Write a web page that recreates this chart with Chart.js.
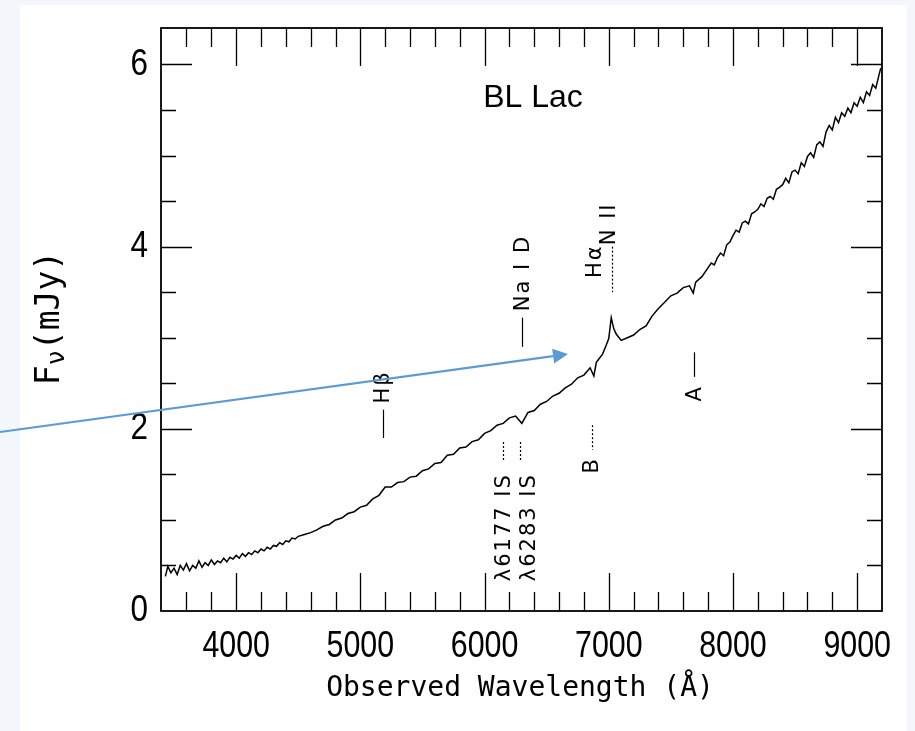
<!DOCTYPE html>
<html><head><meta charset="utf-8">
<script src="https://cdn.jsdelivr.net/npm/chart.js@4/dist/chart.umd.min.js"></script>
<style>
html,body{margin:0;padding:0;background:#f3f7fb;overflow:hidden;}
#bg{position:absolute;left:20px;top:5px;width:887px;height:726px;background:#fff;}
#c{position:absolute;left:0;top:0;}
</style></head><body>
<div id="bg"></div>
<canvas id="c" width="915" height="731"></canvas>
<script>
// ---- data ----
const wavelength = [
  3430,3450,3475,3500,3525,3550,3575,3600,3625,3650,3675,3700,3725,3750,3775,3800,3825,3850,3875,3900,3925,3950,3975,
  4000,4025,4050,4075,4100,4125,4150,4175,4200,4225,4250,4275,4300,4325,4350,4375,4400,4425,4450,4475,4500,
  4550,4600,4650,4700,4750,4800,4850,4900,4950,
  5000,5050,5100,5150,5200,5250,5300,5350,5400,5450,5500,5550,5600,5650,5700,5750,5800,5850,5900,5950,
  6000,6050,6100,6150,6200,6250,6300,6350,6400,6450,6500,6550,6600,6650,6700,6750,6800,6850,6880,6900,6950,6980,
  7000,7020,7040,7060,7100,7150,7200,7250,7300,7350,7400,7450,7500,7550,7600,7650,7680,7700,7750,
  7800,7825,7850,7875,7900,7925,7950,7975,
  8000,8025,8050,8075,8100,8125,8150,8175,8200,8225,8250,8275,8300,8325,8350,8375,8400,8425,8450,8475,
  8500,8525,8550,8575,8600,8625,8650,8675,8700,8725,8750,8775,8800,8825,8850,8875,8900,8925,8950,8975,
  9000,9025,9050,9075,9100,9125,9150,9175,9190];
const flux = [
  0.38,0.49,0.42,0.47,0.40,0.50,0.45,0.52,0.44,0.50,0.47,0.55,0.48,0.53,0.50,0.56,0.51,0.55,0.53,0.58,0.54,0.59,0.57,
  0.61,0.58,0.63,0.60,0.64,0.62,0.66,0.64,0.68,0.66,0.70,0.68,0.72,0.71,0.75,0.73,0.77,0.76,0.80,0.79,0.82,
  0.84,0.86,0.89,0.93,0.95,1.00,1.02,1.07,1.09,
  1.14,1.16,1.23,1.27,1.36,1.36,1.41,1.42,1.47,1.48,1.54,1.56,1.62,1.63,1.71,1.72,1.79,1.80,1.86,1.88,
  1.95,1.98,2.04,2.06,2.12,2.14,2.06,2.18,2.20,2.27,2.30,2.36,2.39,2.45,2.49,2.56,2.59,2.67,2.58,2.73,2.82,2.92,
  2.99,3.22,3.10,3.04,2.97,3.00,3.03,3.09,3.13,3.24,3.32,3.39,3.46,3.49,3.55,3.57,3.49,3.61,3.67,
  3.77,3.82,3.80,3.88,3.93,3.90,4.02,4.05,
  4.12,4.18,4.16,4.26,4.28,4.25,4.36,4.38,4.41,4.47,4.44,4.53,4.55,4.52,4.63,4.65,4.68,4.75,4.70,4.82,
  4.84,4.80,4.92,4.88,4.99,5.03,4.98,5.12,5.15,5.10,5.26,5.33,5.28,5.42,5.36,5.47,5.43,5.52,5.47,5.58,
  5.54,5.64,5.58,5.70,5.66,5.78,5.74,5.88,5.96];
const xTickLabels = [4000,5000,6000,7000,8000,9000];
const yTickLabels = [0,2,4,6];
const lineLabels = ["Hβ","Na I D","Hα","N II","B","A","λ6177 IS","λ6283 IS"];
const labelWave  = [5190,6310,6897,7010,6873,7695,6165,6366];
const labelFlux  = [2.46,3.71,3.84,4.25,1.60,2.39,0.92,0.92];
const markWave   = [5182,6302,null,7026,6865,7687,6149,6286];
const markTop    = [2.21,3.22,null,4.00,2.04,2.84,1.855,1.855];
const markBottom = [1.90,2.90,null,3.50,1.77,2.57,1.636,1.636];
const markDashed = [false,false,false,true,true,false,true,true];
const arrowFrom = {x:2099, y:1.965};
const arrowTo   = {x:6672, y:2.82};

const points = wavelength.slice(0, Math.min(wavelength.length, flux.length)).map((w,i)=>({x:w,y:flux[i]}));

const overlay = {
  id:'overlay',
  afterDraw(chart){
    const {ctx, chartArea:a, scales:{x,y}} = chart;
    ctx.save();
    ctx.strokeStyle='#000'; ctx.fillStyle='#000';
    // frame
    ctx.lineWidth=1.8;
    ctx.strokeRect(a.left,a.top,a.right-a.left,a.bottom-a.top);
    // inward ticks x (bottom & top)
    ctx.lineWidth=1.3;
    ctx.beginPath();
    for(let v=3600; v<9200; v+=200){
      const px=Math.round(x.getPixelForValue(v))+0.5;
      const L=(v%1000===0)?38:19;
      ctx.moveTo(px,a.bottom); ctx.lineTo(px,a.bottom-L);
      ctx.moveTo(px,a.top); ctx.lineTo(px,a.top+L);
    }
    // inward ticks y (left & right)
    for(let v=0.5; v<6.4; v+=0.5){
      const py=Math.round(y.getPixelForValue(v))+0.5;
      const L=(Math.abs(v%2)<1e-6)?31:15;
      ctx.moveTo(a.left,py); ctx.lineTo(a.left+L,py);
      ctx.moveTo(a.right,py); ctx.lineTo(a.right-L,py);
    }
    ctx.stroke();
    // tick labels (condensed, placed with the chart's scales)
    ctx.font="37px 'Liberation Sans', Arial, sans-serif";
    ctx.textBaseline='middle';
    ctx.textAlign='center';
    x.ticks.forEach(t=>{
      ctx.save(); ctx.translate(x.getPixelForValue(t.value), a.bottom+36); ctx.scale(0.82,1);
      ctx.fillText(String(t.value),0,0); ctx.restore();
    });
    ctx.textAlign='right';
    y.ticks.forEach(t=>{
      ctx.save(); ctx.translate(a.left-13, y.getPixelForValue(t.value)); ctx.scale(0.85,1);
      ctx.fillText(String(t.value),0,0); ctx.restore();
    });
    // line identification marks
    ctx.lineWidth=1.2;
    for(let i=0;i<lineLabels.length;i++){
      if(markWave[i]!==null){
        const px=Math.round(x.getPixelForValue(markWave[i]))+0.5;
        ctx.setLineDash(markDashed[i]?[2,2]:[]);
        ctx.beginPath();
        ctx.moveTo(px,y.getPixelForValue(markTop[i]));
        ctx.lineTo(px,y.getPixelForValue(markBottom[i]));
        ctx.stroke();
      }
    }
    ctx.setLineDash([]);
    ctx.font="21px 'DejaVu Sans', sans-serif";
    try{ctx.letterSpacing='2px';}catch(e){}
    ctx.textAlign='center'; ctx.textBaseline='middle';
    for(let i=0;i<lineLabels.length;i++){
      ctx.save();
      ctx.translate(x.getPixelForValue(labelWave[i]), y.getPixelForValue(labelFlux[i]));
      ctx.rotate(-Math.PI/2);
      ctx.fillText(lineLabels[i],0,0);
      ctx.restore();
    }
    try{ctx.letterSpacing='0px';}catch(e){}
    // title
    ctx.font="32px 'Liberation Sans', Arial, sans-serif";
    ctx.fillText("BL Lac", 533, 98);
    // x axis title
    ctx.font="28px 'DejaVu Sans Mono', monospace";
    ctx.textBaseline='alphabetic';
    ctx.fillText("Observed Wavelength (Å)", 520, 696);
    // y axis title
    ctx.save();
    ctx.translate(59, 318);
    ctx.rotate(-Math.PI/2);
    ctx.textAlign='left';
    const f1="33px 'DejaVu Sans Mono', monospace", f2="25px 'DejaVu Sans Mono', monospace";
    ctx.font=f1; const wF=ctx.measureText("F").width, wP=ctx.measureText("(mJy)").width;
    ctx.font=f2; const wN=ctx.measureText("ν").width;
    let sx=-(wF+wN+wP)/2;
    ctx.font=f1; ctx.fillText("F",sx,0); sx+=wF;
    ctx.font=f2; ctx.fillText("ν",sx,5); sx+=wN;
    ctx.font=f1; ctx.fillText("(mJy)",sx,0);
    ctx.restore();
    // blue arrow
    const x0=x.getPixelForValue(arrowFrom.x), y0=y.getPixelForValue(arrowFrom.y);
    const x1=x.getPixelForValue(arrowTo.x), y1=y.getPixelForValue(arrowTo.y);
    const ang=Math.atan2(y1-y0,x1-x0), hl=15, hw=7.5;
    const bx=x1-hl*Math.cos(ang), by=y1-hl*Math.sin(ang);
    ctx.strokeStyle='#5b9bd5'; ctx.fillStyle='#5b9bd5'; ctx.lineWidth=2.2;
    ctx.beginPath(); ctx.moveTo(x0,y0); ctx.lineTo(bx,by); ctx.stroke();
    ctx.beginPath();
    ctx.moveTo(x1,y1);
    ctx.lineTo(bx+hw*Math.sin(ang), by-hw*Math.cos(ang));
    ctx.lineTo(bx-hw*Math.sin(ang), by+hw*Math.cos(ang));
    ctx.closePath(); ctx.fill();
    ctx.restore();
  }
};

new Chart(document.getElementById('c'), {
  type:'line',
  data:{datasets:[{data:points, borderColor:'#000', borderWidth:1.5, pointRadius:0, tension:0, fill:false}]},
  options:{
    responsive:false, animation:false, devicePixelRatio:1,
    layout:{padding:{left:0,right:33,top:28,bottom:0}},
    plugins:{legend:{display:false}, tooltip:{enabled:false}},
    scales:{
      x:{type:'linear', min:3395, max:9200,
        afterBuildTicks:s=>{s.ticks=xTickLabels.map(v=>({value:v}));},
        ticks:{display:false},
        grid:{display:false, drawTicks:false}, border:{display:false},
        afterFit:s=>{s.height=120; s.paddingLeft=0; s.paddingRight=0;}},
      y:{type:'linear', min:0, max:6.4,
        afterBuildTicks:s=>{s.ticks=yTickLabels.map(v=>({value:v}));},
        ticks:{display:false},
        grid:{display:false, drawTicks:false}, border:{display:false},
        afterFit:s=>{s.width=161; s.paddingTop=0; s.paddingBottom=0;}}
    }
  },
  plugins:[overlay]
});
</script>
</body></html>
